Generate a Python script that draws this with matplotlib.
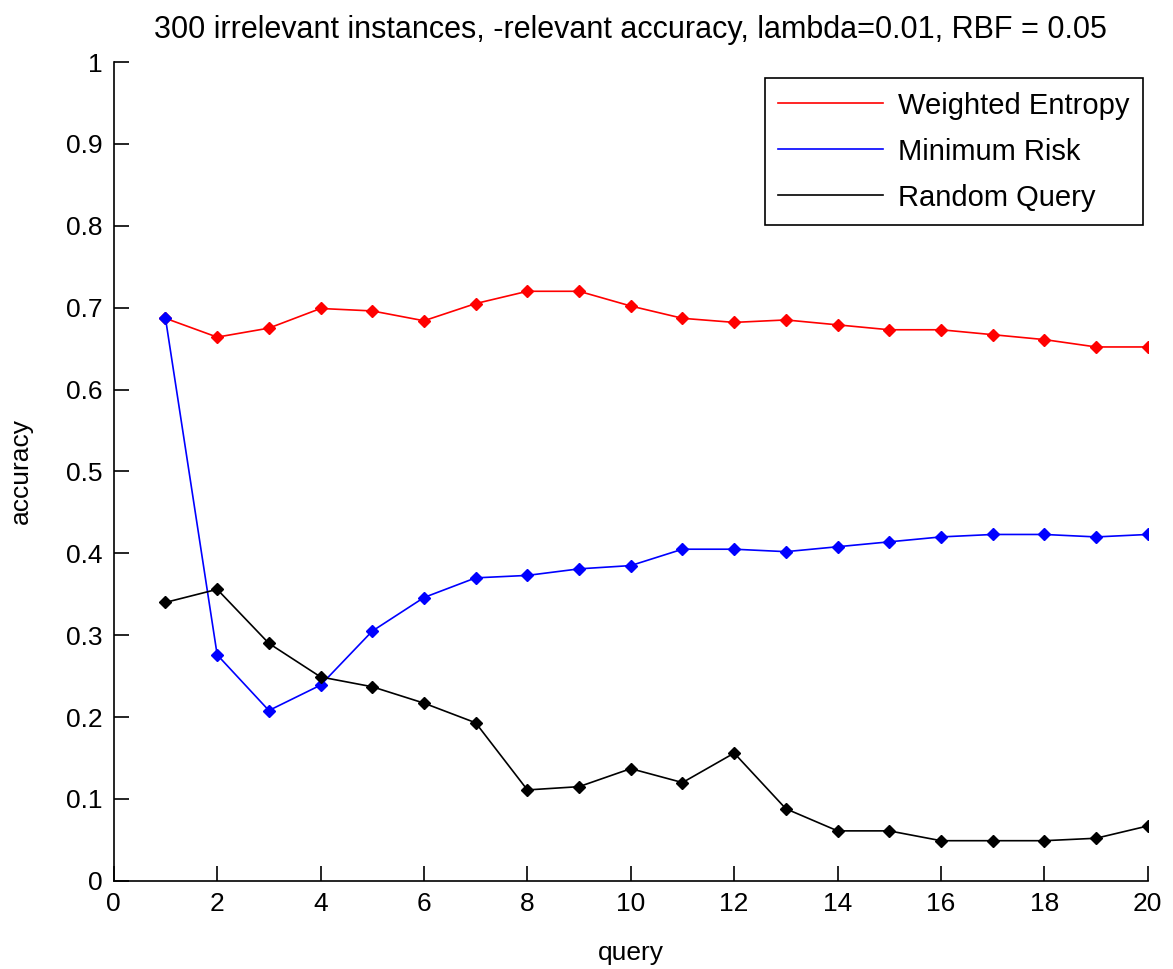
import matplotlib.pyplot as plt
from matplotlib.lines import Line2D

plt.rcParams['font.family'] = ['Liberation Sans', 'DejaVu Sans']

query = list(range(1, 21))
weighted_entropy = [0.687, 0.664, 0.675, 0.699, 0.696, 0.684, 0.705, 0.720, 0.720, 0.702,
                    0.687, 0.682, 0.685, 0.679, 0.673, 0.673, 0.667, 0.661, 0.652, 0.652]
minimum_risk = [0.687, 0.276, 0.208, 0.239, 0.305, 0.346, 0.370, 0.373, 0.381, 0.385,
                0.405, 0.405, 0.402, 0.408, 0.414, 0.420, 0.423, 0.423, 0.420, 0.423]
random_query = [0.340, 0.356, 0.290, 0.249, 0.237, 0.217, 0.193, 0.111, 0.115, 0.137,
                0.120, 0.156, 0.088, 0.061, 0.061, 0.049, 0.049, 0.049, 0.052, 0.067]
labels = ['Weighted Entropy', 'Minimum Risk', 'Random Query']
colors = ['red', 'blue', 'black']

fs = 19

fig = plt.figure(figsize=(11.73, 9.69), dpi=100)
ax = fig.add_axes([0.097, 0.091, 0.8815, 0.845])

for y, c in zip([weighted_entropy, minimum_risk, random_query], colors):
    ax.plot(query, y, '-', color=c, lw=1.2, marker='D', markersize=6)

ax.set_xlim(0, 20)
ax.set_ylim(0, 1)
ax.set_xticks(range(0, 21, 2))
ax.set_yticks([i / 10 for i in range(11)])
ax.set_yticklabels(['0', '0.1', '0.2', '0.3', '0.4', '0.5', '0.6', '0.7', '0.8', '0.9', '1'])
ax.spines['top'].set_visible(False)
ax.spines['right'].set_visible(False)
ax.spines['left'].set_linewidth(1.2)
ax.spines['bottom'].set_linewidth(1.2)
ax.tick_params(direction='in', length=11, width=1.2, labelsize=fs, pad=8)
ax.set_xlabel('query', fontsize=fs, labelpad=18)
ax.set_ylabel('accuracy', fontsize=fs, labelpad=24)
ax.set_title('300 irrelevant instances, -relevant accuracy, lambda=0.01, RBF = 0.05',
             fontsize=22, pad=17)

handles = [Line2D([], [], color=c, lw=1.2) for c in colors]
leg = ax.legend(handles, labels, loc='upper right', bbox_to_anchor=(0.995, 0.98), fontsize=21,
                fancybox=False, edgecolor='black', framealpha=1, handlelength=3.6,
                handletextpad=0.5, borderpad=0.45, labelspacing=0.62, borderaxespad=0)
leg.get_frame().set_linewidth(1.2)

fig.savefig('out.png', dpi=100)
